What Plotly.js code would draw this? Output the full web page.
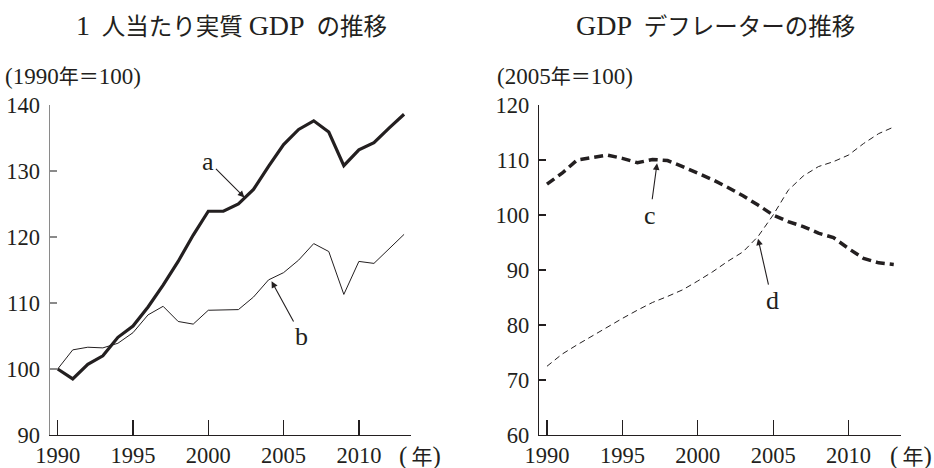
<!DOCTYPE html>
<html>
<head>
<meta charset="utf-8">
<script src="https://cdn.plot.ly/plotly-3.0.1.min.js"></script>
<style>html,body{margin:0;padding:0;background:#fff;}#chart{width:934px;height:468px;}</style>
</head>
<body>
<div id="chart"></div>
<script>
// Data
const years = [1990,1991,1992,1993,1994,1995,1996,1997,1998,1999,2000,2001,2002,2003,2004,2005,2006,2007,2008,2009,2010,2011,2012,2013];
const seriesA = [100,98.5,100.7,102.0,104.8,106.5,109.4,112.7,116.3,120.3,123.9,123.9,125.0,127.2,130.7,134.0,136.3,137.6,135.9,130.8,133.2,134.3,136.5,138.6];
const seriesB = [100,102.9,103.3,103.2,103.9,105.5,108.2,109.5,107.2,106.8,108.9,109.0,109.0,110.9,113.5,114.6,116.5,119.0,117.8,111.3,116.3,116.0,118.2,120.4];
const seriesC = [105.6,107.6,110.0,110.4,110.9,110.3,109.5,110.1,109.9,108.8,107.6,106.4,105.0,103.5,101.8,100.0,98.8,97.9,96.7,95.9,93.9,92.1,91.3,91.0];
const seriesD = [72.5,74.7,76.4,78.0,79.7,81.2,82.7,84.1,85.2,86.4,88.0,89.7,91.6,93.3,96.1,100.0,104.5,107.1,108.8,109.7,110.9,113.0,114.8,116.0];
const xTicks = [1990,1995,2000,2005,2010];
const yTicksLeft = [90,100,110,120,130,140];
const yTicksRight = [60,70,80,90,100,110,120];
const L = s => '<span style="font-size:28px">' + s + '</span>';
const U = s => '<span style="font-size:23px">' + s + '</span>';
const P = s => '<span style="font-size:25px">' + s + '</span>';
const titleLeft = L('1') + '&nbsp;&nbsp;人当たり実質&nbsp;' + L('GDP') + '&nbsp;&nbsp;の推移';
const titleRight = L('GDP') + '&nbsp;&nbsp;デフレーターの推移';
const unitLeft = U('(1990') + '年＝' + U('100)');
const unitRight = U('(2005') + '年＝' + U('100)');
const yearLabel = P('(') + '\u2009年' + P(')');

const FONT = '"Liberation Serif", "DejaVu Serif", "Noto Sans CJK JP", serif';
const INK = '#231f20';
const W = 934, H = 468;
const px = v => v / W;
const py = v => 1 - v / H;

const traces = [
  {x: years, y: seriesA, xaxis: 'x', yaxis: 'y', mode: 'lines', line: {color: INK, width: 3.2}},
  {x: years, y: seriesB, xaxis: 'x', yaxis: 'y', mode: 'lines', line: {color: INK, width: 1}},
  {x: years, y: seriesC, xaxis: 'x2', yaxis: 'y2', mode: 'lines', line: {color: INK, width: 3.5, dash: '9px,5px'}},
  {x: years, y: seriesD, xaxis: 'x2', yaxis: 'y2', mode: 'lines', line: {color: INK, width: 1, dash: '6px,4px'}}
];

const xBase = {
  range: [1989.49, 2013.46], tickvals: xTicks, ticks: 'inside', ticklen: 15, tickwidth: 1.3, tickcolor: INK,
  showline: true, linecolor: INK, linewidth: 1.3, showgrid: false, zeroline: false,
  tickfont: {family: FONT, size: 22.5, color: INK}, fixedrange: true
};
const yBase = {
  ticks: 'inside', ticklen: 7, tickwidth: 1.3, showline: true, linewidth: 1.5,
  showgrid: false, zeroline: false, tickfont: {family: FONT, size: 22.5, color: INK}, fixedrange: true,
  ticklabelstandoff: 4
};

const annFont = {family: FONT, size: 26, color: INK};
const arrowBase = {showarrow: true, arrowhead: 2, arrowsize: 1.2, arrowwidth: 1.1, arrowcolor: INK, standoff: 0, font: annFont};
const layout = {
  width: W, height: H, margin: {l: 0, r: 0, t: 0, b: 0},
  paper_bgcolor: '#fff', plot_bgcolor: '#fff', showlegend: false,
  xaxis: Object.assign({}, xBase, {domain: [px(50), px(411)], anchor: 'y'}),
  yaxis: Object.assign({}, yBase, {domain: [py(435), py(105)], range: [90, 140], tickvals: yTicksLeft, linecolor: '#8a8a8a', tickcolor: '#8a8a8a', anchor: 'x'}),
  xaxis2: Object.assign({}, xBase, {domain: [px(539.3), px(900.7)], anchor: 'y2'}),
  yaxis2: Object.assign({}, yBase, {domain: [py(435), py(105)], range: [60, 120], tickvals: yTicksRight, linecolor: INK, tickcolor: INK, anchor: 'x2'}),
  annotations: [
    {xref: 'paper', yref: 'paper', x: px(231), y: py(25), xanchor: 'center', yanchor: 'middle', text: titleLeft, showarrow: false, font: {family: FONT, size: 23.5, color: INK}},
    {xref: 'paper', yref: 'paper', x: px(715), y: py(25), xanchor: 'center', yanchor: 'middle', text: titleRight, showarrow: false, font: {family: FONT, size: 23.5, color: INK}},
    {xref: 'paper', yref: 'paper', x: px(3), y: py(77), xanchor: 'left', yanchor: 'middle', text: unitLeft, showarrow: false, font: {family: FONT, size: 20, color: INK}},
    {xref: 'paper', yref: 'paper', x: px(495), y: py(77), xanchor: 'left', yanchor: 'middle', text: unitRight, showarrow: false, font: {family: FONT, size: 20, color: INK}},
    {xref: 'paper', yref: 'paper', x: px(420), y: py(456), xanchor: 'center', yanchor: 'middle', text: yearLabel, showarrow: false, font: {family: FONT, size: 21, color: INK}},
    {xref: 'paper', yref: 'paper', x: px(911), y: py(456), xanchor: 'center', yanchor: 'middle', text: yearLabel, showarrow: false, font: {family: FONT, size: 21, color: INK}},
    Object.assign({xref: 'x', yref: 'y', x: 2002.4, y: 126.0, text: 'a', ax: -36, ay: -36}, arrowBase),
    Object.assign({xref: 'x', yref: 'y', x: 2004.2, y: 113.3, text: 'b', ax: 30, ay: 55}, arrowBase),
    Object.assign({xref: 'x2', yref: 'y2', x: 1997.3, y: 109.4, text: 'c', ax: -7, ay: 52}, arrowBase),
    Object.assign({xref: 'x2', yref: 'y2', x: 2004.0, y: 95.7, text: 'd', ax: 14, ay: 62}, arrowBase)
  ]
};

Plotly.newPlot('chart', traces, layout, {staticPlot: true, displayModeBar: false});
</script>
</body>
</html>
